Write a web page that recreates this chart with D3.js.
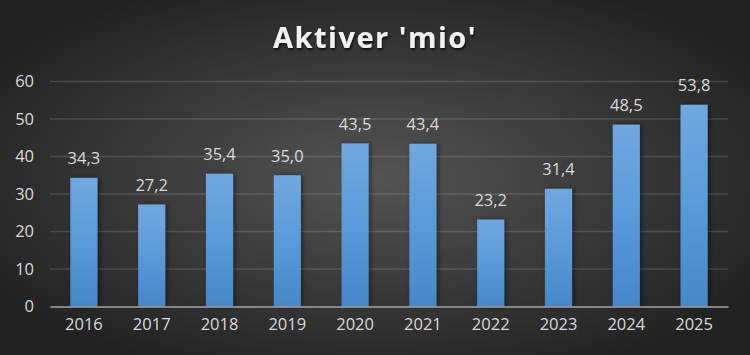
<!DOCTYPE html>
<html>
<head>
<meta charset="utf-8">
<script src="https://cdn.jsdelivr.net/npm/d3@7"></script>
<style>
  html, body { margin: 0; padding: 0; background: #2a2a2a; }
  svg { display: block; }
</style>
</head>
<body>
<div id="chart"></div>
<script>
const years = ["2016", "2017", "2018", "2019", "2020", "2021", "2022", "2023", "2024", "2025"];
const assets = [34.3, 27.2, 35.4, 35.0, 43.5, 43.4, 23.2, 31.4, 48.5, 53.8];
const yTicks = [0, 10, 20, 30, 40, 50, 60];
const title = "Aktiver 'mio'";

const width = 750, height = 355;
const margin = { top: 81.5, right: 22, bottom: 48.5, left: 50 };
const font = "'Open Sans', 'Noto Sans', sans-serif";

const svg = d3.select("#chart").append("svg")
  .attr("width", width)
  .attr("height", height);

const defs = svg.append("defs");

const bg = defs.append("radialGradient")
  .attr("id", "bg")
  .attr("cx", "50%").attr("cy", "50%").attr("r", "60%");
bg.append("stop").attr("offset", "0%").attr("stop-color", "#545454");
bg.append("stop").attr("offset", "100%").attr("stop-color", "#222222");

const barFill = defs.append("linearGradient")
  .attr("id", "barFill")
  .attr("x1", 0).attr("y1", 0).attr("x2", 0).attr("y2", 1);
barFill.append("stop").attr("offset", "0%").attr("stop-color", "#71a7de");
barFill.append("stop").attr("offset", "50%").attr("stop-color", "#5a9ad9");
barFill.append("stop").attr("offset", "100%").attr("stop-color", "#4587c8");

const shadow = defs.append("filter").attr("id", "shadow")
  .attr("x", "-30%").attr("y", "-10%").attr("width", "160%").attr("height", "120%");
shadow.append("feDropShadow")
  .attr("dx", 2).attr("dy", 0).attr("stdDeviation", 2.5)
  .attr("flood-color", "#000").attr("flood-opacity", 0.45);

const titleShadow = defs.append("filter").attr("id", "titleShadow")
  .attr("x", "-10%").attr("y", "-30%").attr("width", "120%").attr("height", "160%");
titleShadow.append("feDropShadow")
  .attr("dx", 1).attr("dy", 2).attr("stdDeviation", 1.2)
  .attr("flood-color", "#000").attr("flood-opacity", 0.7);

svg.append("rect")
  .attr("width", width).attr("height", height)
  .attr("fill", "url(#bg)");

const x = d3.scaleBand()
  .domain(years)
  .range([margin.left, width - margin.right])
  .paddingInner(0.6)
  .paddingOuter(0.3);

const y = d3.scaleLinear()
  .domain([0, 60])
  .range([height - margin.bottom, margin.top]);

// gridlines
svg.append("g")
  .attr("class", "grid")
  .selectAll("line")
  .data(yTicks.filter(d => d > 0))
  .join("line")
  .attr("x1", margin.left)
  .attr("x2", width - margin.right)
  .attr("y1", d => y(d))
  .attr("y2", d => y(d))
  .attr("stroke", "#ffffff")
  .attr("stroke-opacity", 0.14)
  .attr("stroke-width", 1.3);

// y axis labels
const yAxis = svg.append("g")
  .attr("transform", `translate(${margin.left},0)`)
  .call(d3.axisLeft(y).tickValues(yTicks).tickSize(0).tickPadding(16));
yAxis.select(".domain").remove();
yAxis.selectAll("text")
  .attr("fill", "#d9d9d9")
  .style("font-family", font)
  .style("font-size", "16.5px");

// bars
svg.append("g")
  .selectAll("rect")
  .data(assets)
  .join("rect")
  .attr("x", (d, i) => x(years[i]))
  .attr("y", d => y(d))
  .attr("width", x.bandwidth())
  .attr("height", d => y(0) - y(d))
  .attr("fill", "url(#barFill)")
  .attr("filter", "url(#shadow)");

// x axis
const xAxis = svg.append("g")
  .attr("transform", `translate(0,${y(0)})`)
  .call(d3.axisBottom(x).tickSize(0).tickPadding(12));
xAxis.select(".domain")
  .attr("stroke", "#a6a6a6")
  .attr("stroke-width", 1.5);
xAxis.selectAll("text")
  .attr("fill", "#d9d9d9")
  .style("font-family", font)
  .style("font-size", "16.5px");

// value labels
svg.append("g")
  .selectAll("text")
  .data(assets)
  .join("text")
  .attr("x", (d, i) => x(years[i]) + x.bandwidth() / 2)
  .attr("y", d => y(d) - 13.5)
  .attr("text-anchor", "middle")
  .attr("fill", "#d9d9d9")
  .style("font-family", font)
  .style("font-size", "16.5px")
  .text(d => d3.format(".1f")(d).replace(".", ","));

// title
svg.append("text")
  .attr("x", width / 2)
  .attr("y", 48)
  .attr("text-anchor", "middle")
  .attr("fill", "#f2f2f2")
  .attr("filter", "url(#titleShadow)")
  .style("font-family", font)
  .style("font-size", "29px")
  .style("font-weight", "bold")
  .style("letter-spacing", "1.5px")
  .text(title);
</script>
</body>
</html>
